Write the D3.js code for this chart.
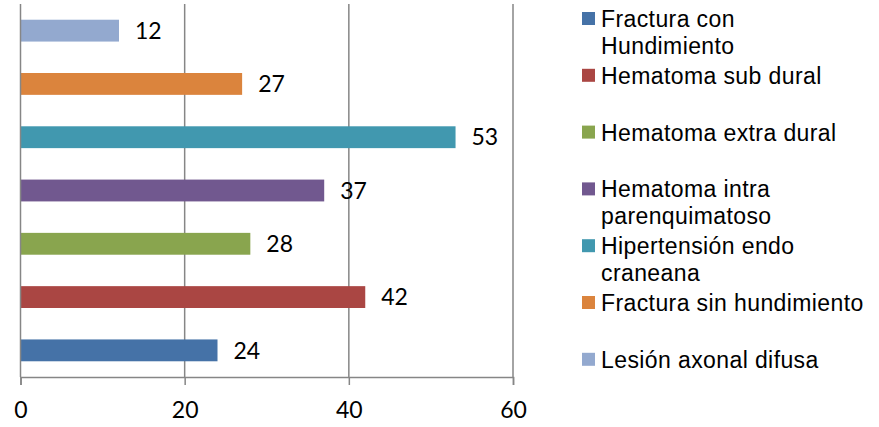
<!DOCTYPE html>
<html>
<head>
<meta charset="utf-8">
<script src="https://cdn.jsdelivr.net/npm/d3@7"></script>
<style>
  body { margin:0; background:#fff; }
  svg { display:block; }
</style>
</head>
<body>
<svg width="879" height="427"></svg>
<script>
// categories, bottom to top
const categories = ['Fractura con Hundimiento', 'Hematoma sub dural', 'Hematoma extra dural',
  'Hematoma intra parenquimatoso', 'Hipertensión endo craneana', 'Fractura sin hundimiento',
  'Lesión axonal difusa'];
const values = [24, 42, 28, 37, 53, 27, 12];
const colors = ['#4572A7', '#AA4643', '#89A54E', '#71588F', '#4198AF', '#DB843D', '#93A9CF'];
// legend text, wrapped as in the picture
const legendLines = [['Fractura con', 'Hundimiento'], ['Hematoma sub dural'], ['Hematoma extra dural'],
  ['Hematoma intra', 'parenquimatoso'], ['Hipertensión endo', 'craneana'], ['Fractura sin hundimiento'],
  ['Lesión axonal difusa']];
const xTicks = [0, 20, 40, 60];

const pl = 20.5, pr = 513, pt = 4, pb = 377;  // plot edges
const numFont = 'Lato, "Open Sans", sans-serif';

let svg = d3.select('svg');

let x = d3.scaleLinear().domain([0, 60]).range([pl, pr]);
let y = d3.scaleBand().domain(categories).range([pb, pt]).paddingInner(0.59).paddingOuter(0.295);

// gridlines
svg.selectAll('line.grid').data(xTicks.slice(1)).join('line')
  .attr('class', 'grid')
  .attr('x1', d => x(d)).attr('x2', d => x(d))
  .attr('y1', pt).attr('y2', pb)
  .attr('stroke', '#868686').attr('stroke-width', 1.5);

// bars
svg.selectAll('rect.bar').data(values).join('rect')
  .attr('class', 'bar')
  .attr('x', x(0))
  .attr('y', (d, i) => y(categories[i]))
  .attr('width', d => x(d) - x(0))
  .attr('height', y.bandwidth())
  .attr('fill', (d, i) => colors[i]);

// value labels
svg.selectAll('text.val').data(values).join('text')
  .attr('class', 'val')
  .attr('x', d => x(d) + 16)
  .attr('y', (d, i) => y(categories[i]) + y.bandwidth() / 2)
  .attr('dy', '0.36em')
  .attr('font-family', numFont).attr('font-size', 23).attr('fill', '#000')
  .text(d => d);

// x axis
let xAxis = d3.axisBottom(x).tickValues(xTicks).tickSize(8).tickPadding(17);
let gx = svg.append('g').attr('transform', `translate(0,${pb})`).call(xAxis);
gx.select('.domain').attr('stroke', '#868686').attr('stroke-width', 1.5);
gx.selectAll('.tick line').attr('stroke', '#868686').attr('stroke-width', 1.5);
gx.selectAll('.tick text').attr('font-family', numFont).attr('font-size', 23).attr('fill', '#000');

// y axis line
svg.append('line')
  .attr('x1', pl).attr('x2', pl).attr('y1', pt).attr('y2', pb)
  .attr('stroke', '#868686').attr('stroke-width', 1.5);

// legend
let lg = svg.append('g').attr('transform', 'translate(582,0)');
let item = lg.selectAll('g').data(legendLines).join('g')
  .attr('transform', (d, i) => `translate(0,${27 + i * 56.8})`);
item.append('rect')
  .attr('x', 0).attr('y', -15).attr('width', 13).attr('height', 13)
  .attr('fill', (d, i) => colors[i]);
item.append('text')
  .attr('font-family', '"Liberation Sans", Arial, sans-serif').attr('font-size', 23)
  .attr('letter-spacing', 0.4).attr('fill', '#000')
  .selectAll('tspan').data(d => d).join('tspan')
  .attr('x', 19).attr('y', (d, j) => j * 27)
  .text(d => d);
</script>
</body>
</html>
